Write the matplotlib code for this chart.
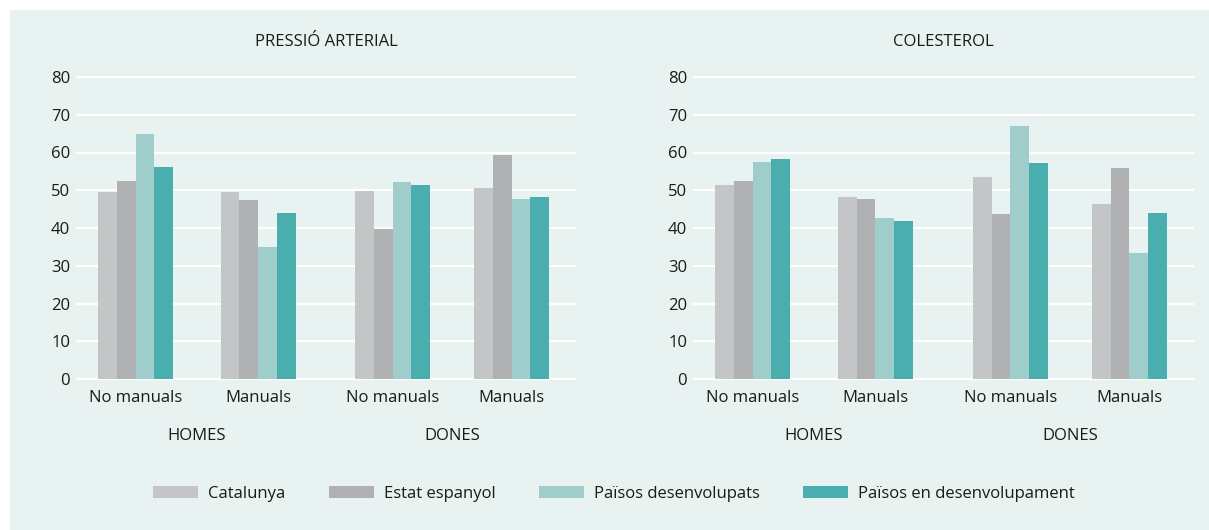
import matplotlib.pyplot as plt
from matplotlib.patches import Rectangle

# dades
series = ["Catalunya", "Estat espanyol", "Països desenvolupats", "Països en desenvolupament"]
colors = ["#c4c5c7", "#b0b1b3", "#9ecdcc", "#4baeae"]
subcats = ["No manuals", "Manuals", "No manuals", "Manuals"]
groups = ["HOMES", "DONES"]

pressio = [
    [49.6, 49.6, 49.9, 50.7],  # Catalunya
    [52.5, 47.5, 39.8, 59.4],  # Estat espanyol
    [65.0, 35.0, 52.3, 47.7],  # Països desenvolupats
    [56.2, 44.0, 51.5, 48.3],  # Països en desenvolupament
]
colesterol = [
    [51.5, 48.3, 53.6, 46.4],
    [52.5, 47.7, 43.8, 56.0],
    [57.6, 42.7, 67.1, 33.4],
    [58.4, 41.9, 57.3, 44.0],
]

plt.rcParams['font.family'] = ['Open Sans', 'DejaVu Sans']
bg = "#e8f2f0"
txt = "#1a1a1a"

fig = plt.figure(figsize=(12.09, 5.30), dpi=100, facecolor="white")
fig.patches.append(Rectangle((10 / 1209, 0), 1, 520 / 530, transform=fig.transFigure,
                             facecolor=bg, edgecolor="none", zorder=-10))

pos = [0, 1, 2.1, 3.07]
w = 0.153


def draw(ax, data, title):
    ax.set_facecolor("none")
    for i, vals in enumerate(data):
        xs = [p + (i - 1.5) * w for p in pos]
        ax.bar(xs, vals, width=w, color=colors[i], label=series[i], zorder=3)
    ax.set_xlim(-0.478, 3.588)
    ax.set_ylim(0, 80)
    ax.set_yticks(range(0, 81, 10))
    ax.grid(axis="y", color="white", linewidth=1.6, zorder=1)
    for g in ax.get_ygridlines():
        g.set_clip_on(False)
    for s in ax.spines.values():
        s.set_visible(False)
    ax.tick_params(axis="y", length=0, pad=5, labelsize=12, labelcolor=txt)
    ax.set_xticks(pos)
    ax.set_xticklabels(subcats)
    ax.tick_params(axis="x", length=0, pad=8, labelsize=12, labelcolor=txt)
    for j, gname in enumerate(groups):
        cx = (pos[2 * j] + pos[2 * j + 1]) / 2
        ax.text(cx, -0.19, gname, transform=ax.get_xaxis_transform(),
                ha="center", va="center", fontsize=12, color=txt)
    ax.text(0.5, 1.116, title, transform=ax.transAxes, ha="center", va="center",
            fontsize=12, color=txt)


ax1 = fig.add_axes([77 / 1209, 151 / 530, 498 / 1209, 302 / 530])
ax2 = fig.add_axes([694 / 1209, 151 / 530, 499 / 1209, 302 / 530])
draw(ax1, pressio, "PRESSIÓ ARTERIAL")
draw(ax2, colesterol, "COLESTEROL")

h, l = ax1.get_legend_handles_labels()
fig.legend(h, l, loc="center", bbox_to_anchor=(614 / 1209, 36 / 530), ncol=4,
           frameon=False, fontsize=12, handlelength=2.7, handleheight=0.75,
           handletextpad=0.6, columnspacing=2.6, labelcolor=txt)

fig.savefig("out.png", dpi=100, facecolor="white")
